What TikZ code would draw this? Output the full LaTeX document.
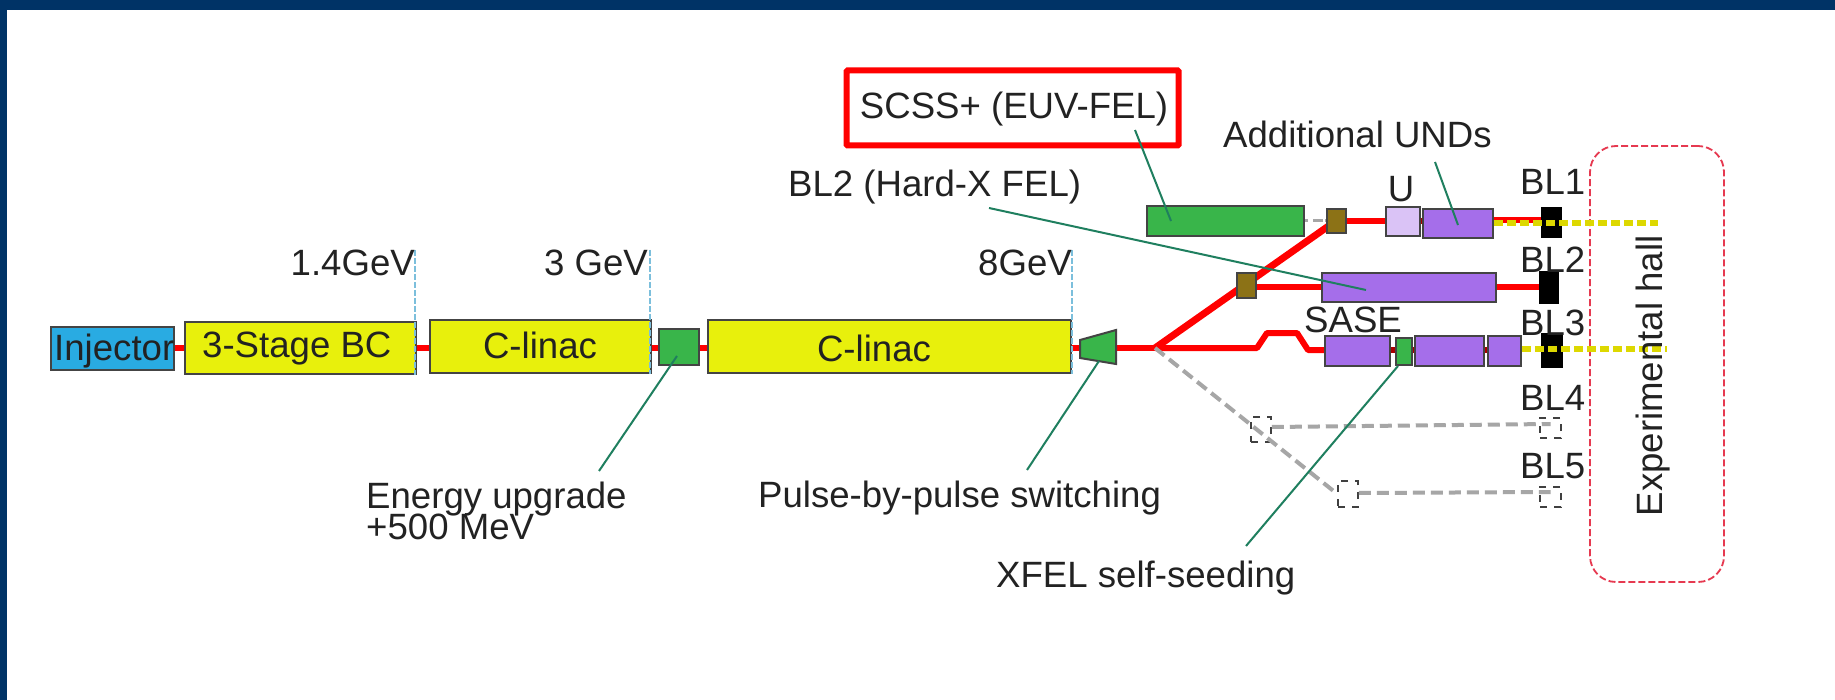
\documentclass[tikz,border=0pt]{standalone}
\usepackage{fontspec}
\setmainfont{Liberation Sans}
\usetikzlibrary{backgrounds}
\definecolor{navy}{HTML}{003366}
\definecolor{cyanbox}{HTML}{29ABE2}
\definecolor{yelbox}{HTML}{E8F00C}
\definecolor{grnbox}{HTML}{39B54A}
\definecolor{purbox}{HTML}{A56EEA}
\definecolor{lilbox}{HTML}{DAC3F6}
\definecolor{brnbox}{HTML}{8C7216}
\definecolor{leader}{HTML}{1F7F5F}
\definecolor{beam}{HTML}{FF0000}
\definecolor{darkbeam}{HTML}{A80000}
\definecolor{photon}{HTML}{DDD800}
\definecolor{hall}{HTML}{E63950}
\definecolor{tick}{HTML}{7CBFDC}
\definecolor{ink}{HTML}{222222}
\definecolor{edge}{HTML}{444444}
\definecolor{future}{HTML}{A6A6A6}
\tikzset{
  bx/.style={draw=edge,line width=2pt,rectangle,inner sep=0pt,font=\fontsize{36.6}{38}\selectfont,text=ink},
  blk/.style={fill=black,draw=black,line width=0.5pt,rectangle,inner sep=0pt},
  ghost/.style={draw=black!75,line width=1.5pt,dash pattern=on 7pt off 7pt,rectangle,inner sep=0pt},
  lbl/.style={inner sep=0pt,text=ink,font=\fontsize{36.6}{31}\selectfont},
  beamline/.style={draw=beam,line width=6pt},
  darkline/.style={draw=darkbeam,line width=6pt},
  photonline/.style={draw=photon,line width=6pt,dash pattern=on 9pt off 4pt},
  futureline/.style={draw=future,line width=4pt,dash pattern=on 12pt off 6pt},
  leaderline/.style={draw=leader,line width=2pt},
  tickline/.style={draw=tick,line width=1.6pt,dash pattern=on 6pt off 2pt},
}
\newcommand{\bxn}[7]{\node[#2,minimum width={(#5-#3)*1pt},minimum height={(#6-#4)*1pt}] (#1) at ({(#3+#5)/2},{(#4+#6)/2}) {#7};}
\begin{document}
\begin{tikzpicture}[x=1pt,y=-1pt]
\useasboundingbox (0,0) rectangle (1835,700);
\begin{pgfonlayer}{background}
\fill[white] (0,0) rectangle (1835,700);
\end{pgfonlayer}
\fill[navy] (0,0) rectangle (1835,10);
\fill[navy] (0,0) rectangle (7,700);

% main line boxes
\bxn{inj}{bx,fill=cyanbox}{51}{327}{174}{370}{}
\bxn{bc}{bx,fill=yelbox}{185}{322}{416}{374}{}
\bxn{cl1}{bx,fill=yelbox}{430}{320}{651}{373}{}
\bxn{up}{bx,fill=grnbox}{659}{329}{699}{365}{}
\bxn{cl2}{bx,fill=yelbox}{708}{320}{1071}{373}{}
\path[draw=edge,line width=2pt,fill=grnbox] (1080,340) -- (1116,330) -- (1116,364) -- (1080,358) -- cycle;
\coordinate (swe) at (1116,348);
\coordinate (swc) at (1080,348);

% upper lines
\bxn{euv}{bx,fill=grnbox}{1147}{206}{1304}{236}{}
\bxn{kA}{bx,fill=brnbox}{1327}{209}{1346}{233}{}
\bxn{u}{bx,fill=lilbox}{1386}{207}{1420}{236}{}
\bxn{und}{bx,fill=purbox}{1423}{209}{1493}{238}{}
\bxn{bA}{blk}{1541}{207}{1561}{237}{}
\bxn{kB}{bx,fill=brnbox}{1237}{273}{1256}{298}{}
\bxn{hx}{bx,fill=purbox}{1322}{273}{1496}{302}{}
\bxn{bB}{blk}{1539}{271}{1558}{303}{}
\bxn{sa}{bx,fill=purbox}{1325}{336}{1390}{366}{}
\bxn{ss}{bx,fill=grnbox}{1396}{338}{1412}{365}{}
\bxn{sb}{bx,fill=purbox}{1415}{336}{1484}{366}{}
\bxn{sc}{bx,fill=purbox}{1488}{336}{1521}{366}{}
\bxn{bC}{blk}{1541}{333}{1562}{367}{}

% future ghosts
\bxn{gA}{ghost}{1251}{417}{1271}{442}{}
\bxn{gB}{ghost}{1338}{481}{1358}{507}{}
\bxn{gC}{ghost}{1540}{418}{1561}{438}{}
\bxn{gD}{ghost}{1540}{487}{1561}{507}{}

% hall
\node[draw=hall,line width=1.8pt,dash pattern=on 7pt off 3pt,rounded corners=26pt,inner sep=0pt,minimum width=134pt,minimum height=436pt] (hallbox) at (1657,364) {};

% named free ends and beam heights
\coordinate (knot) at (1155,348);
\coordinate (phA) at (1658,223);
\coordinate (phC) at (1667,349);
\coordinate (k1) at (1257,348);
\coordinate (k2) at (1267,333);
\coordinate (k3) at (1297,333);
\coordinate (k4) at (1308,350);
\coordinate (yM) at (0,348);
\coordinate (yT) at (0,221);
\coordinate (yU) at (0,220);
\coordinate (yH) at (0,287);
\coordinate (kAin) at (1330,225);

\begin{pgfonlayer}{background}
\draw[beamline] (inj.east |- yM) -- (bc.west |- yM);
\draw[beamline] (bc.east |- yM) -- (cl1.west |- yM);
\draw[beamline] (cl1.east |- yM) -- (up.west |- yM);
\draw[beamline] (up.east |- yM) -- (cl2.west |- yM);
\draw[beamline] (cl2.east |- yM) -- (swc);
\draw[beamline] (swe) -- (knot);
\draw[beamline,line width=7pt,line join=round] (knot) -- (kAin);
\draw[beamline,line join=round] (knot) -- (k1) -- (k2) -- (k3) -- (k4) -- (sa.west |- k4);
\draw[beamline] (kA.east |- yT) -- (u.west |- yT);
\draw[darkline] (u.east |- yT) -- (und.west |- yT);
\draw[beamline] (und.east |- yU) -- (bA.west |- yU);
\draw[beamline] (kB.east |- yH) -- (hx.west |- yH);
\draw[beamline] (hx.east |- yH) -- (bB.west |- yH);
\draw[darkline] (sa.east |- k4) -- (ss.west |- k4);
\draw[darkline] (ss.east |- k4) -- (sb.west |- k4);
\draw[darkline] (sb.east |- k4) -- (sc.west |- k4);
\draw[futureline,line width=3pt,dash pattern=on 3pt off 5pt on 10pt off 2pt] (euv.east) -- (kA.west);
\end{pgfonlayer}

\draw[futureline] (knot) -- (gB.west);
\draw[futureline] ([yshift=2.5pt]gA.east) -- ([yshift=4pt]gC.center);
\draw[futureline] ([yshift=1pt]gB.east) -- ([yshift=5pt]gD.center);

% photon lines
\draw[photonline] (und.east |- phA) -- (phA);
\draw[photonline] (sc.east |- phC) -- (phC);

% energy ticks
\coordinate (tA) at (415,250);
\coordinate (tB) at (650,250);
\coordinate (tC) at (1072,250);
\draw[tickline] (tA) -- (tA |- bc.south);
\draw[tickline] (tB) -- (tB |- cl1.south);
\draw[tickline] (tC) -- (tC |- cl2.south);

% texts
\node[lbl,anchor=base west] (tinj) at (54,360) {Injector};
\node[lbl,anchor=base west] (tbc) at (202,357) {3-Stage BC};
\node[lbl,anchor=base] (tcl1) at (540,358) {C-linac};
\node[lbl,anchor=base] (tcl2) at (874,361) {C-linac};
\node[lbl,anchor=base east] (e1) at (415,276) {1.4GeV};
\node[lbl,anchor=base east] (e2) at (648,276) {3 GeV};
\node[lbl,anchor=base east] (e3) at (1072,276) {8GeV};
\node[lbl,anchor=base west] (teup) at (366,508) {Energy upgrade};
\node[lbl,anchor=base west] (teupb) at (366,539) {+500 MeV};
\node[lbl,anchor=base west] (tpul) at (758,507) {Pulse-by-pulse switching};
\node[lbl,anchor=base west] (tseed) at (996,587) {XFEL self-seeding};
\node[lbl,anchor=base west] (thard) at (788,197) {BL2 (Hard-X FEL)};
\node[lbl,anchor=base west] (tadd) at (1223,148) {Additional UNDs};
\node[lbl,anchor=base] (tu) at (1401,202) {U};
\node[lbl,anchor=base west] (tsase) at (1304,332) {SASE};
\node[lbl,anchor=base west] (tb1) at (1520,195) {BL1};
\node[lbl,anchor=base west] (tb2) at (1520,273) {BL2};
\node[lbl,anchor=base west] (tb3) at (1520,335) {BL3};
\node[lbl,anchor=base west] (tb4) at (1520,410) {BL4};
\node[lbl,anchor=base west] (tb5) at (1520,478) {BL5};
\node[lbl,anchor=base,rotate=90] (thall) at (1662,376) {Experimental hall};

% red frame
\node[draw=red,line width=6pt,inner sep=0pt,minimum width=332pt,minimum height=75pt,rounded corners=1pt] (euvf) at (1012.5,108) {};
\node[lbl,anchor=base] (teuv) at (1014,119) {SCSS+ (EUV-FEL)};

% leader lines
\coordinate (l1a) at (1135,130); \coordinate (l1b) at (1171,221);
\coordinate (l2a) at (1435,162); \coordinate (l2b) at (1458,225);
\coordinate (l3a) at (989,208);  \coordinate (l3b) at (1366,290);
\coordinate (l4a) at (1398,366); \coordinate (l4b) at (1246,546);
\coordinate (l5a) at (677,356);  \coordinate (l5b) at (599,471);
\coordinate (l6a) at (1099,361); \coordinate (l6b) at (1027,470);
\draw[leaderline] (l1a) -- (l1b);
\draw[leaderline] (l2a) -- (l2b);
\draw[leaderline] (l3a) -- (l3b);
\draw[leaderline] (l4a) -- (l4b);
\draw[leaderline] (l5a) -- (l5b);
\draw[leaderline] (l6a) -- (l6b);
\end{tikzpicture}
\end{document}
